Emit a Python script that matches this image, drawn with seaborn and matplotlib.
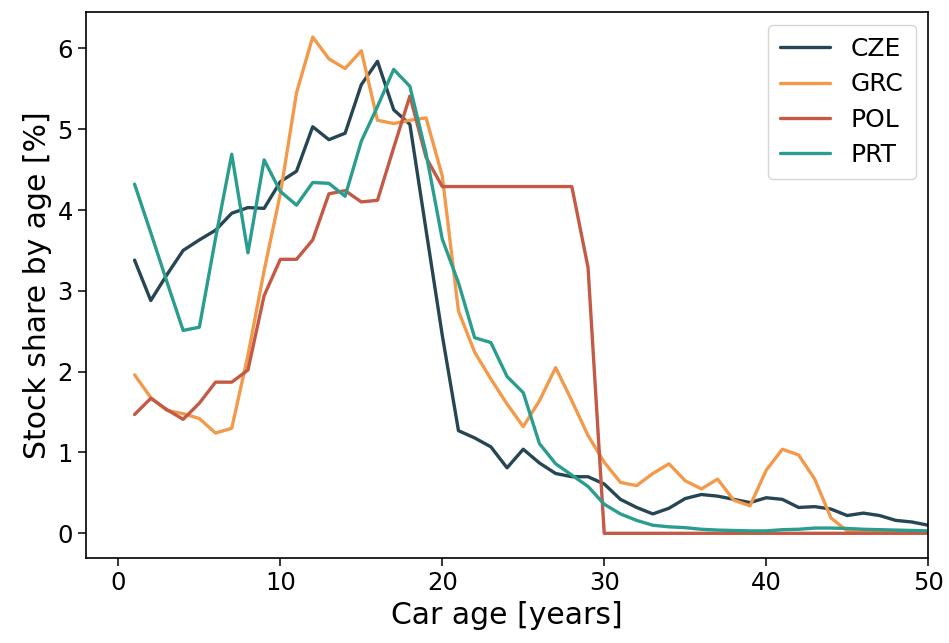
import numpy as np
import pandas as pd
import matplotlib
matplotlib.use("Agg")
import matplotlib.pyplot as plt
import seaborn as sns

ages = list(range(1, 51))
cze = [3.38, 2.88, 3.20, 3.50, 3.63, 3.75, 3.96, 4.03, 4.02, 4.35,
       4.48, 5.03, 4.87, 4.95, 5.55, 5.84, 5.24, 5.06, 3.75, 2.45,
       1.27, 1.18, 1.07, 0.81, 1.04, 0.87, 0.74, 0.70, 0.70, 0.61,
       0.42, 0.32, 0.24, 0.31, 0.43, 0.48, 0.46, 0.42, 0.38, 0.44,
       0.42, 0.32, 0.33, 0.30, 0.22, 0.25, 0.22, 0.16, 0.14, 0.10]
grc = [1.96, 1.68, 1.52, 1.48, 1.42, 1.24, 1.30, 2.20, 3.25, 4.20,
       5.45, 6.14, 5.87, 5.75, 5.97, 5.11, 5.07, 5.11, 5.14, 4.42,
       2.75, 2.24, 1.91, 1.60, 1.32, 1.64, 2.05, 1.64, 1.21, 0.88,
       0.63, 0.59, 0.74, 0.86, 0.65, 0.55, 0.67, 0.41, 0.34, 0.78,
       1.04, 0.97, 0.67, 0.19, 0.03, 0.02, 0.01, 0.01, 0.01, 0.01]
pol = [1.47, 1.67, 1.53, 1.41, 1.61, 1.87, 1.87, 2.02, 2.94, 3.39,
       3.39, 3.63, 4.20, 4.24, 4.10, 4.12, 4.77, 5.41, 4.65, 4.29,
       4.29, 4.29, 4.29, 4.29, 4.29, 4.29, 4.29, 4.29, 3.29, 0.0,
       0.0, 0.0, 0.0, 0.0, 0.0, 0.0, 0.0, 0.0, 0.0, 0.0,
       0.0, 0.0, 0.0, 0.0, 0.0, 0.0, 0.0, 0.0, 0.0, 0.0]
prt = [4.32, 3.72, 3.11, 2.51, 2.55, 3.65, 4.69, 3.47, 4.62, 4.23,
       4.06, 4.34, 4.33, 4.17, 4.85, 5.28, 5.74, 5.53, 4.70, 3.64,
       3.10, 2.42, 2.36, 1.94, 1.74, 1.11, 0.86, 0.72, 0.58, 0.36,
       0.24, 0.16, 0.10, 0.08, 0.07, 0.05, 0.04, 0.035, 0.03, 0.03,
       0.045, 0.05, 0.065, 0.065, 0.06, 0.05, 0.045, 0.04, 0.035, 0.03]

countries = ["CZE", "GRC", "POL", "PRT"]
colors = ["#264653", "#F39A4A", "#C45A45", "#2A9D8F"]

df = pd.concat([
    pd.DataFrame({"age": ages, "share": vals, "country": c})
    for c, vals in zip(countries, [cze, grc, pol, prt])
], ignore_index=True)

sns.set_style("ticks")
plt.rcParams['font.family'] = ['DejaVu Sans']
plt.rcParams['text.color'] = 'black'
plt.rcParams['axes.labelcolor'] = 'black'

fig = plt.figure(figsize=(9.49, 6.43), dpi=100)
ax = fig.add_axes([0.0906, 0.132, 0.8874, 0.849])
sns.lineplot(data=df, x="age", y="share", hue="country",
             palette=dict(zip(countries, colors)), linewidth=2.4, ax=ax)

ax.set_xlim(-2, 50)
ax.set_xticks([0, 10, 20, 30, 40, 50])
ax.set_yticks([0, 1, 2, 3, 4, 5, 6])
ax.tick_params(labelsize=17.5, length=6, width=1.1, colors="black")
for s in ax.spines.values():
    s.set_color("black")
    s.set_linewidth(1.2)
ax.set_xlabel("Car age [years]", fontsize=21.5, color="black")
ax.set_ylabel("Stock share by age [%]", fontsize=21.5, color="black")
leg = ax.legend(loc="upper right", fontsize=18, title=None,
                handlelength=2.0, borderpad=0.5, labelspacing=0.45)
for line in leg.get_lines():
    line.set_linewidth(2.4)
for t in leg.get_texts():
    t.set_color("black")

fig.savefig("out.png", dpi=100)
